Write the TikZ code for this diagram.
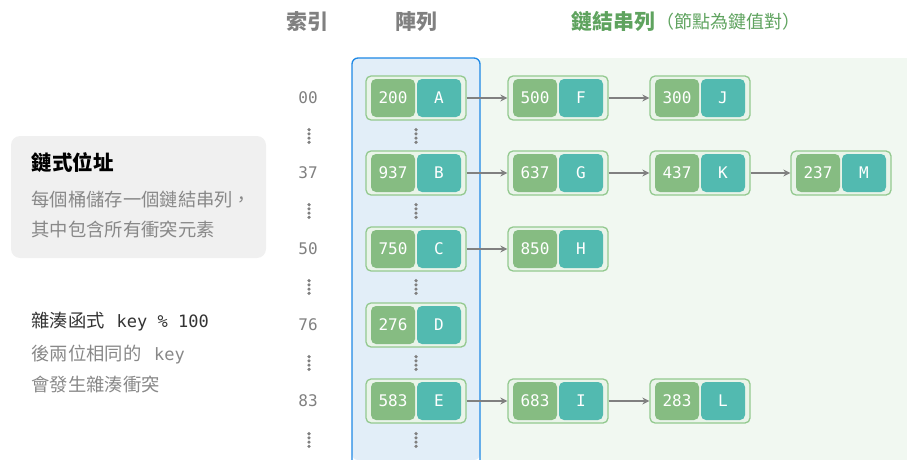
\documentclass[tikz,border=0pt]{standalone}
\usepackage{fontspec}
\setmainfont{Noto Sans CJK TC}
\setmonofont{DejaVu Sans Mono}
\usetikzlibrary{arrows.meta, positioning}
\definecolor{cgrey}{HTML}{808080}
\definecolor{ctext}{HTML}{888888}
\definecolor{ckey}{HTML}{86BC82}
\definecolor{cval}{HTML}{52BAB0}
\definecolor{cedge}{HTML}{93C98F}
\definecolor{cinner}{HTML}{E9F4E9}
\definecolor{cblue}{HTML}{1E88E5}
\definecolor{cbluebg}{HTML}{E2EEF8}
\definecolor{cgreenbg}{HTML}{F1F8F1}
\definecolor{cgreenhd}{HTML}{5FA35F}
\definecolor{cpanel}{HTML}{F0F0F0}
\tikzset{
  every picture/.style={line width=1.2pt},
  kvbox/.style={draw=cedge, fill=cinner, rounded corners=5pt, line width=1.3pt, minimum width=100pt, minimum height=44pt, inner sep=0pt},
  keycell/.style={fill=ckey, rounded corners=5pt, minimum width=44pt, minimum height=38pt, inner sep=0pt, xshift=-23pt, text=white, font=\ttfamily\fontsize{16}{18}\selectfont},
  valcell/.style={fill=cval, rounded corners=5pt, minimum width=44pt, minimum height=38pt, inner sep=0pt, xshift=23pt, text=white, font=\ttfamily\fontsize{16}{18}\selectfont},
  kv/.style 2 args={label={[keycell]center:#1}, label={[valcell]center:#2}},
  arrow/.style={-{Stealth[length=7pt, width=7pt]}, draw=cgrey, line width=1.5pt},
  head/.style={font=\bfseries\fontsize{21}{25}\selectfont, text=cgrey},
  idx/.style={font=\ttfamily\fontsize{16}{18}\selectfont, text=cgrey},
  vdots/.style={inner sep=0pt, minimum width=4.4pt, minimum height=17pt,
    path picture={\foreach \k in {-6.3,-2.1,2.1,6.3} \fill[cgrey] ([yshift=\k pt]path picture bounding box.center) circle (1.8pt);}},
  note/.style={font=\fontsize{18.3}{22}\selectfont, text=ctext, anchor=west, inner sep=0pt},
}
\begin{document}
\begin{tikzpicture}[x=1pt, y=-1pt]
  \useasboundingbox (0,0) rectangle (907,460);
  % backgrounds
  \fill[cgreenbg] (480,58) rectangle (907,460);
  \fill[cbluebg, rounded corners=6pt] (352,460) -- (352,58) -- (480,58) -- (480,460) -- cycle;
  \draw[cblue, line width=1.3pt, rounded corners=6pt] (352,460) -- (352,58) -- (480,58) -- (480,460);
  % headers
  \node[head] (hidx) at (307,22) {索引};
  \node[head] (harr) at (416,22) {陣列};
  \node[head, text=cgreenhd, anchor=west, inner sep=0pt] (hlist) at (571,22) {鏈結串列};
  \node[text=cgreenhd, font=\fontsize{18}{22}\selectfont, anchor=west, inner sep=0pt] (hnote) at (hlist.east) {（節點為鍵值對）};
  % left notes
  \fill[cpanel, rounded corners=9pt] (11,136) rectangle (266,258);
  \node[note, text=black, font=\bfseries\fontsize{20.5}{24}\selectfont] (t1) at (31,163) {鏈式位址};
  \node[note] (t2) at (31,200) {每個桶儲存一個鏈結串列，};
  \node[note] (t3) at (31,230) {其中包含所有衝突元素};
  \node[note, text=black!80] (t4) at (31,322) {雜湊函式\hspace{0.65em}{\ttfamily\fontsize{17}{20}\selectfont key \% 100}};
  \node[note] (t5) at (31,355) {後兩位相同的\hspace{0.7em}{\ttfamily\fontsize{17}{20}\selectfont key}};
  \node[note] (t6) at (31,384) {會發生雜湊衝突};
  % index column
  \node[idx] (i00) at (308,98) {00};
  \node[idx] (i37) at (308,173) {37};
  \node[idx] (i50) at (308,249) {50};
  \node[idx] (i76) at (308,325) {76};
  \node[idx] (i83) at (308,401) {83};
  \node[vdots] (d1) at (309,136) {};
  \node[vdots] (d2) at (309,211) {};
  \node[vdots] (d3) at (309,287) {};
  \node[vdots] (d4) at (309,363) {};
  \node[vdots] (d5) at (309,440) {};
  \node[vdots] (e1) at (416,136) {};
  \node[vdots] (e2) at (416,211) {};
  \node[vdots] (e3) at (416,287) {};
  \node[vdots] (e4) at (416,363) {};
  \node[vdots] (e5) at (416,440) {};
  % array buckets
  \node[kvbox, kv={200}{A}] (a00) at (416,98) {};
  \node[kvbox, kv={937}{B}] (a37) at (416,173) {};
  \node[kvbox, kv={750}{C}] (a50) at (416,249) {};
  \node[kvbox, kv={276}{D}] (a76) at (416,325) {};
  \node[kvbox, kv={583}{E}] (a83) at (416,401) {};
  % chains
  \node[kvbox, kv={500}{F}] (nF) at (558,98) {};
  \node[kvbox, kv={300}{J}] (nJ) at (700,98) {};
  \node[kvbox, kv={637}{G}] (nG) at (558,173) {};
  \node[kvbox, kv={437}{K}] (nK) at (700,173) {};
  \node[kvbox, kv={237}{M}] (nM) at (841,173) {};
  \node[kvbox, kv={850}{H}] (nH) at (558,249) {};
  \node[kvbox, kv={683}{I}] (nI) at (558,401) {};
  \node[kvbox, kv={283}{L}] (nL) at (700,401) {};
  \draw[arrow] (a00) -- (nF);
  \draw[arrow] (nF) -- (nJ);
  \draw[arrow] (a37) -- (nG);
  \draw[arrow] (nG) -- (nK);
  \draw[arrow] (nK) -- (nM);
  \draw[arrow] (a50) -- (nH);
  \draw[arrow] (a83) -- (nI);
  \draw[arrow] (nI) -- (nL);
\end{tikzpicture}
\end{document}
